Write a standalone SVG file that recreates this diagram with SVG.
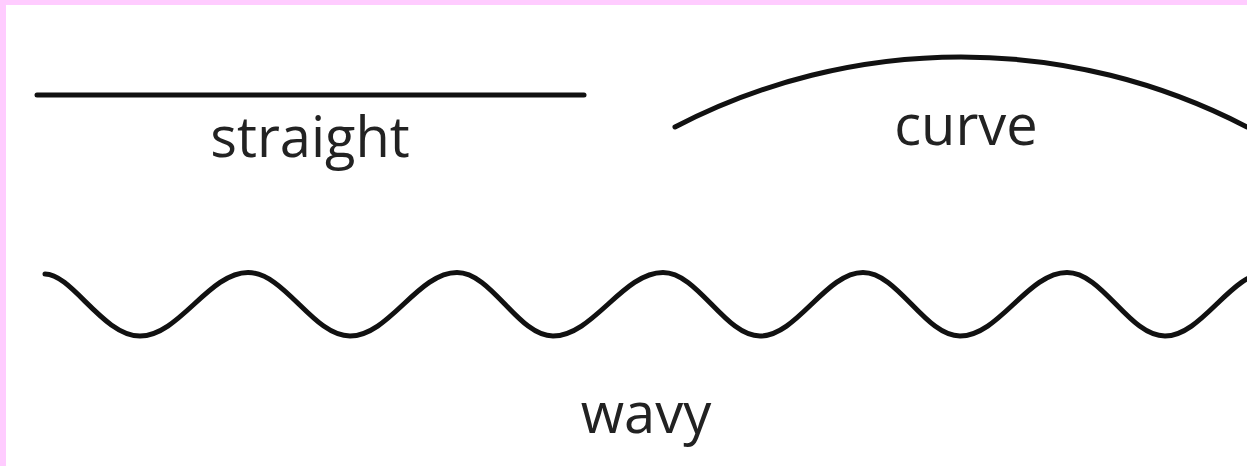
<svg xmlns="http://www.w3.org/2000/svg" width="1247" height="466" viewBox="0 0 1247 466">
<style>
.ln{fill:none;stroke:#111;stroke-width:5;stroke-linecap:round}
.lbl{font-family:"Open Sans","Noto Sans","Liberation Sans",sans-serif;font-size:56px;fill:#222;text-anchor:middle}
</style>
<rect x="0" y="0" width="1247" height="466" fill="#ffccff"/>
<rect x="6" y="5" width="1241" height="461" fill="#ffffff"/>
<g id="straight">
<line class="ln" x1="37" y1="95" x2="584" y2="95"/>
<text class="lbl" x="310" y="157">straight</text>
</g>
<g id="curve">
<path class="ln" d="M675,127 A619,619 0 0 1 1247,127"/>
<text class="lbl" x="966" y="145">curve</text>
</g>
<g id="wavy">
<path class="ln" d="M45,274 C72,274 103,336 140,336 C179,336 209,272.5 248,272.5 C285,272.5 313,336 350,336 C389,336 418,272.5 457,272.5 C492,272.5 518,336 553,336 C593,336 623,272.5 663,272.5 C698,272.5 725,336 760,336 C797,336 826,272.5 863,272.5 C898,272.5 925,336 960,336 C999,336 1028,272.5 1067,272.5 C1103,272.5 1129,336 1165,336 C1202,336 1231,272.5 1268,272.5"/>
<text class="lbl" x="646" y="433">wavy</text>
</g>
</svg>
